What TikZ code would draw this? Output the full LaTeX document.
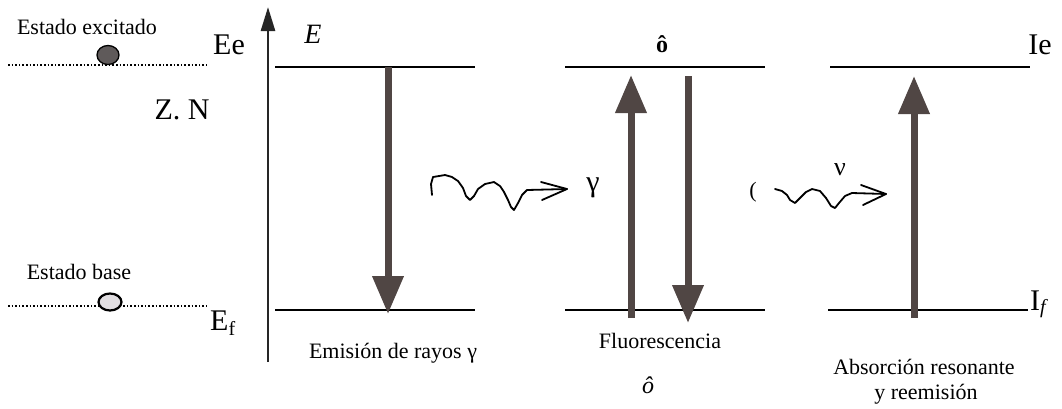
\documentclass[tikz,border=0pt]{standalone}
\usepackage{fontspec}
\setmainfont{Liberation Serif}
\usetikzlibrary{arrows.meta,shapes.geometric}
\definecolor{arrowgray}{RGB}{80,70,68}
\definecolor{balldark}{RGB}{95,90,90}
\definecolor{balllight}{RGB}{225,222,225}
\tikzset{
  level/.style={line width=1.8pt},
  dotlevel/.style={dotted,line width=1.6pt},
  bigarrow/.style={line width=7pt,color=arrowgray,-{Triangle[length=38pt,width=30pt]}},
  wave/.style={line width=1.8pt,line join=round,line cap=round},
  small/.style={font=\fontsize{22}{26}\selectfont,inner sep=0pt},
  big/.style={font=\fontsize{30}{34}\selectfont,inner sep=0pt},
}
\begin{document}
\begin{tikzpicture}[x=1pt,y=-1pt]
\useasboundingbox (0,0) rectangle (1062,408);
% left dotted levels
\coordinate (dl1) at (8,65); \coordinate (dr1) at (207,65);
\coordinate (dl2) at (8,306); \coordinate (dr2) at (207,306);
\draw[dotlevel] (dl1) -- (dr1);
\draw[dotlevel] (dl2) -- (dr2);
\node[draw,line width=1.3pt,fill=balldark,ellipse,minimum width=22pt,minimum height=19pt,inner sep=0pt] (exc) at (108,55) {};
\node[draw,line width=2.2pt,fill=balllight,ellipse,minimum width=23pt,minimum height=17pt,inner sep=0pt] (gnd) at (110,302) {};
\node[small] (texc) at (87,27) {Estado excitado};
\node[small] (tbase) at (79,272) {Estado base};
\node[big] (Ee) at (229,45) {Ee};
\node[big] (ZN) at (182,110) {Z. N};
\node[big,anchor=base west] (Ef) at (210,330) {E\raisebox{-5pt}{\fontsize{20}{20}\selectfont f}};
% energy axis
\coordinate (ax0) at (268,362); \coordinate (ax1) at (268,7);
\draw[line width=2.6pt,-{Triangle[length=24pt,width=14pt]},color=black!85] (ax0) -- (ax1);
\node[big,font=\fontsize{28}{30}\selectfont\itshape] (E) at (313,34) {E};
% panel 1
\coordinate (a1) at (275,67); \coordinate (a2) at (475,67);
\coordinate (b1) at (275,310); \coordinate (b2) at (475,310);
\draw[level] (a1) -- (a2); \draw[level] (b1) -- (b2);
\coordinate (p1s) at (388,67); \coordinate (p1e) at (388,314);
\draw[bigarrow] (p1s) -- (p1e);
\node[small] (t1) at (393,353) {Emisión de rayos γ};
% wave 1
\coordinate (w1s) at (432,195); \coordinate (w1e) at (567,189);
\draw[wave] (w1s) -- (431,184) -- (433,177) -- (445,175) -- (452,177) -- (458,181) -- (463,188) -- (466,196) -- (470,200) -- (474,196) -- (478,189) -- (485,184) -- (494,182) -- (500,186) -- (504,192) -- (508,200) -- (511,207) -- (514,210) -- (518,203) -- (522,195) -- (527,190) -- (w1e);
\draw[wave] (541,182) -- (w1e) -- (542,200);
\node[big] (gam) at (593,188) {γ};
% panel 2
\coordinate (c1) at (565,67); \coordinate (c2) at (765,67);
\coordinate (d1) at (565,310); \coordinate (d2) at (765,310);
\draw[level] (c1) -- (c2); \draw[level] (d1) -- (d2);
\node[font=\fontsize{24}{28}\selectfont\bfseries,inner sep=0pt] (o1) at (662,44) {ô};
\coordinate (p2s) at (631,318); \coordinate (p2e) at (631,75);
\draw[bigarrow] (p2s) -- (p2e);
\coordinate (p3s) at (688,76); \coordinate (p3e) at (688,323);
\draw[bigarrow] (p3s) -- (p3e);
\node[small] (t2) at (660,341) {Fluorescencia};
\node[font=\fontsize{24}{28}\selectfont\itshape,inner sep=0pt] (o2) at (648,385) {ô};
% wave 2
\node[small] (par) at (753,192) {(};
\coordinate (w2s) at (775,189); \coordinate (w2e) at (886,194);
\draw[wave] (w2s) -- (782,191) -- (787,195) -- (790,200) -- (795,203) -- (800,198) -- (806,192) -- (812,189) -- (820,191) -- (826,198) -- (831,206) -- (835,208) -- (839,203) -- (845,196) -- (852,193) -- (w2e);
\draw[wave] (861,185) -- (w2e) -- (863,205);
\node[font=\fontsize{26}{30}\selectfont,inner sep=0pt] (nu) at (840,170) {ν};
% panel 3
\coordinate (e1) at (830,67); \coordinate (e2) at (1030,67);
\coordinate (f1) at (828,310); \coordinate (f2) at (1028,310);
\draw[level] (e1) -- (e2); \draw[level] (f1) -- (f2);
\coordinate (p4s) at (914,318); \coordinate (p4e) at (914,76);
\draw[bigarrow] (p4s) -- (p4e);
\node[big] (Ie) at (1040,45) {Ie};
\node[big,anchor=base west] (If) at (1030,310) {I\raisebox{-3pt}{\fontsize{20}{20}\selectfont\itshape f}};
\node[small] (t3) at (924,367) {Absorción resonante};
\node[small] (t4) at (926,394) {y reemisión};
\end{tikzpicture}
\end{document}
